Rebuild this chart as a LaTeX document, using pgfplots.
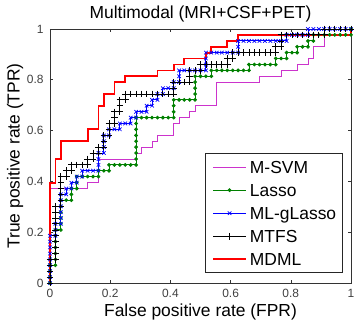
\documentclass[border=0pt]{standalone}
\usepackage{fontspec}
\setmainfont{Liberation Sans}
\usepackage{pgfplots}
\pgfplotsset{compat=1.18}
\definecolor{msvm}{RGB}{204,51,204}
\definecolor{lassoc}{RGB}{0,128,0}
\definecolor{mdml}{RGB}{255,0,0}
\begin{document}
\begin{tikzpicture}
\begin{axis}[
  name=ax,
  width=301bp, height=254bp, scale only axis,
  xmin=0, xmax=1, ymin=0, ymax=1,
  xtick={0,0.2,0.4,0.6,0.8,1}, ytick={0,0.2,0.4,0.6,0.8,1},
  tick align=inside, major tick length=3bp,
  axis line style={black!80, line width=0.6bp},
  tick style={black!80, line width=0.6bp},
  clip=false,
  /pgf/number format/assume math mode=true,
  tick label style={font=\fontsize{12}{14}\selectfont, text=black!75},
  xticklabel style={anchor=base, yshift=-14bp},
  yticklabel style={anchor=east, xshift=-3bp},
  title={Multimodal (MRI+CSF+PET)},
  title style={at={(axis description cs:0.5,1)}, anchor=base, yshift=5bp, font=\fontsize{17.5}{20}\selectfont},
  xlabel={False positive rate (FPR)},
  xlabel style={at={(axis description cs:0.5,0)}, anchor=base, yshift=-33bp, font=\fontsize{17.5}{20}\selectfont},
  ylabel={True positive rate (TPR)},
  ylabel style={at={(axis description cs:-0.1013,0.5)}, anchor=base, font=\fontsize{17.5}{20}\selectfont},
  legend style={at={(axis description cs:1,0)}, anchor=south east, xshift=-8bp, yshift=10bp,
    font=\fontsize{17.5}{20}\selectfont, draw=black!85, line width=0.6bp, fill=white,
    inner xsep=6.5bp, inner ysep=5bp, row sep=6bp, column sep=3bp,
    nodes={inner sep=0pt, text height=14.8bp, text depth=2.2bp}},
  legend cell align=left,
  legend image code/.code={\draw[mark repeat=2,mark phase=2,#1] plot coordinates {(0bp,0bp) (16.5bp,0bp) (33bp,0bp)};},
]
% M-SVM
\addplot[color=msvm, line width=0.9bp] coordinates {
(0,0)(0,0.372)(0.125,0.372)(0.125,0.395)(0.161,0.395)(0.161,0.488)(0.286,0.488)(0.286,0.512)(0.304,0.512)(0.304,0.535)(0.339,0.535)(0.339,0.558)(0.357,0.558)(0.357,0.581)(0.411,0.581)(0.411,0.628)(0.429,0.628)(0.429,0.651)(0.464,0.651)(0.464,0.674)(0.482,0.674)(0.482,0.698)(0.554,0.698)(0.554,0.791)(0.696,0.791)(0.696,0.814)(0.768,0.814)(0.768,0.837)(0.821,0.837)(0.821,0.86)(0.857,0.86)(0.857,0.884)(0.875,0.884)(0.875,0.93)(0.911,0.93)(0.911,1)(1,1)};
\addlegendentry{M-SVM}
% Lasso
\addplot[color=lassoc, line width=0.9bp, mark=*, mark size=1.4bp, mark options={fill=lassoc, draw=lassoc}] coordinates {
(0,0)(0,0.023)(0,0.047)(0,0.07)
(0.018,0.07)(0.018,0.093)(0.018,0.116)(0.018,0.14)(0.018,0.163)(0.018,0.186)(0.018,0.209)
(0.036,0.209)(0.036,0.233)(0.036,0.256)(0.036,0.279)(0.036,0.302)(0.036,0.326)
(0.054,0.326)(0.071,0.326)(0.071,0.349)(0.071,0.372)
(0.089,0.372)(0.089,0.395)(0.089,0.419)
(0.107,0.419)(0.125,0.419)(0.143,0.419)(0.161,0.419)(0.161,0.442)
(0.179,0.442)(0.196,0.442)(0.196,0.465)
(0.214,0.465)(0.232,0.465)(0.25,0.465)(0.268,0.465)(0.286,0.465)
(0.286,0.488)(0.286,0.512)(0.286,0.535)(0.286,0.558)(0.286,0.581)(0.286,0.605)(0.286,0.628)(0.286,0.651)
(0.304,0.651)(0.321,0.651)(0.339,0.651)(0.357,0.651)(0.375,0.651)(0.393,0.651)(0.411,0.651)
(0.411,0.674)(0.411,0.698)(0.411,0.721)
(0.429,0.721)(0.446,0.721)(0.464,0.721)(0.482,0.721)
(0.482,0.744)(0.482,0.767)(0.482,0.791)(0.482,0.814)
(0.5,0.814)(0.518,0.814)(0.536,0.814)(0.536,0.837)
(0.554,0.837)(0.571,0.837)(0.589,0.837)(0.607,0.837)(0.625,0.837)(0.643,0.837)(0.661,0.837)(0.661,0.86)
(0.679,0.86)(0.696,0.86)(0.714,0.86)(0.732,0.86)(0.75,0.86)(0.75,0.884)
(0.768,0.884)(0.786,0.884)(0.786,0.907)
(0.804,0.907)(0.821,0.907)(0.821,0.93)
(0.839,0.93)(0.857,0.93)(0.857,0.953)
(0.875,0.953)(0.875,0.977)
(0.893,0.977)(0.911,0.977)(0.929,0.977)(0.946,0.977)(0.964,0.977)(0.982,0.977)(1,0.977)(1,1)};
\addlegendentry{Lasso}
% ML-gLasso
\addplot[color=blue, line width=0.9bp, mark=x, mark size=2.5bp, mark options={line width=0.7bp}] coordinates {
(0,0)(0,0.023)(0,0.047)(0,0.07)(0,0.093)(0,0.116)(0,0.14)(0,0.163)(0,0.186)
(0.018,0.186)(0.018,0.209)(0.018,0.233)
(0.036,0.233)(0.036,0.256)(0.036,0.279)(0.036,0.302)(0.036,0.326)(0.036,0.349)
(0.054,0.349)(0.054,0.372)
(0.071,0.372)(0.071,0.395)
(0.089,0.395)(0.089,0.419)
(0.107,0.419)(0.107,0.442)
(0.125,0.442)(0.143,0.442)(0.161,0.442)(0.161,0.465)(0.161,0.488)(0.161,0.512)
(0.179,0.512)(0.179,0.535)(0.179,0.558)(0.179,0.581)
(0.196,0.581)(0.196,0.605)
(0.214,0.605)(0.232,0.605)(0.232,0.628)
(0.25,0.628)(0.268,0.628)(0.268,0.651)
(0.286,0.651)(0.286,0.674)
(0.304,0.674)(0.321,0.674)(0.321,0.698)
(0.339,0.698)(0.339,0.721)
(0.357,0.721)(0.357,0.744)
(0.375,0.744)(0.375,0.767)
(0.393,0.767)(0.411,0.767)(0.411,0.791)
(0.429,0.791)(0.429,0.814)(0.429,0.837)
(0.446,0.837)(0.464,0.837)(0.482,0.837)(0.5,0.837)(0.518,0.837)
(0.518,0.86)(0.518,0.884)(0.518,0.907)
(0.536,0.907)(0.554,0.907)(0.571,0.907)(0.589,0.907)(0.607,0.907)(0.625,0.907)
(0.625,0.93)(0.625,0.953)
(0.643,0.953)(0.661,0.953)(0.679,0.953)(0.696,0.953)(0.714,0.953)(0.732,0.953)(0.75,0.953)(0.768,0.953)(0.786,0.953)
(0.786,0.977)
(0.804,0.977)(0.821,0.977)(0.839,0.977)(0.857,0.977)
(0.857,1)
(0.875,1)(0.893,1)(0.911,1)(0.929,1)(0.946,1)(0.964,1)(0.982,1)(1,1)};
\addlegendentry{ML-gLasso}
% MTFS
\addplot[color=black, line width=0.9bp, mark=+, mark size=3.3bp, mark options={line width=0.8bp}] coordinates {
(0,0)(0,0.023)(0,0.047)(0,0.07)(0,0.093)
(0.018,0.093)(0.018,0.116)(0.018,0.14)(0.018,0.163)(0.018,0.186)(0.018,0.209)(0.018,0.233)(0.018,0.256)(0.018,0.279)(0.018,0.302)
(0.036,0.302)(0.036,0.326)(0.036,0.349)(0.036,0.372)(0.036,0.395)(0.036,0.419)
(0.054,0.419)(0.054,0.442)
(0.071,0.442)(0.071,0.465)
(0.089,0.465)(0.107,0.465)(0.125,0.465)(0.125,0.488)
(0.143,0.488)(0.143,0.512)
(0.161,0.512)(0.161,0.535)
(0.179,0.535)(0.179,0.558)(0.179,0.581)
(0.196,0.581)(0.196,0.605)(0.196,0.628)
(0.214,0.628)(0.214,0.651)(0.214,0.674)
(0.232,0.674)(0.232,0.698)(0.232,0.721)
(0.25,0.721)(0.25,0.744)
(0.268,0.744)(0.286,0.744)(0.304,0.744)(0.321,0.744)(0.339,0.744)(0.357,0.744)(0.375,0.744)(0.393,0.744)(0.411,0.744)
(0.411,0.767)(0.411,0.791)
(0.429,0.791)(0.446,0.791)(0.464,0.791)(0.464,0.814)(0.464,0.837)
(0.482,0.837)(0.5,0.837)(0.5,0.86)
(0.518,0.86)(0.536,0.86)(0.554,0.86)(0.571,0.86)(0.589,0.86)(0.589,0.884)
(0.607,0.884)(0.607,0.907)
(0.625,0.907)(0.643,0.907)(0.661,0.907)(0.679,0.907)(0.696,0.907)(0.714,0.907)(0.732,0.907)(0.75,0.907)
(0.75,0.93)
(0.768,0.93)(0.768,0.953)(0.768,0.977)
(0.786,0.977)(0.804,0.977)(0.821,0.977)(0.839,0.977)(0.857,0.977)(0.875,0.977)(0.893,0.977)(0.911,0.977)
(0.911,1)
(0.929,1)(0.946,1)(0.964,1)(0.982,1)(1,1)};
\addlegendentry{MTFS}
% MDML
\addplot[color=mdml, line width=1.8bp] coordinates {
(0,0)(0,0.395)(0.018,0.395)(0.018,0.488)(0.036,0.488)(0.036,0.558)(0.125,0.558)(0.125,0.605)(0.161,0.605)(0.161,0.698)(0.179,0.698)(0.179,0.744)(0.214,0.744)(0.214,0.791)(0.25,0.791)(0.25,0.814)(0.357,0.814)(0.357,0.837)(0.411,0.837)(0.411,0.86)(0.446,0.86)(0.446,0.884)(0.518,0.884)(0.518,0.907)(0.536,0.907)(0.536,0.93)(0.589,0.93)(0.589,0.953)(0.625,0.953)(0.625,0.977)(1,0.977)(1,1)};
\addlegendentry{MDML}
\end{axis}
\pgfresetboundingbox
\path ([xshift=-50bp,yshift=-43bp]ax.south west) rectangle ([xshift=3bp,yshift=29bp]ax.north east);
\end{tikzpicture}
\end{document}
